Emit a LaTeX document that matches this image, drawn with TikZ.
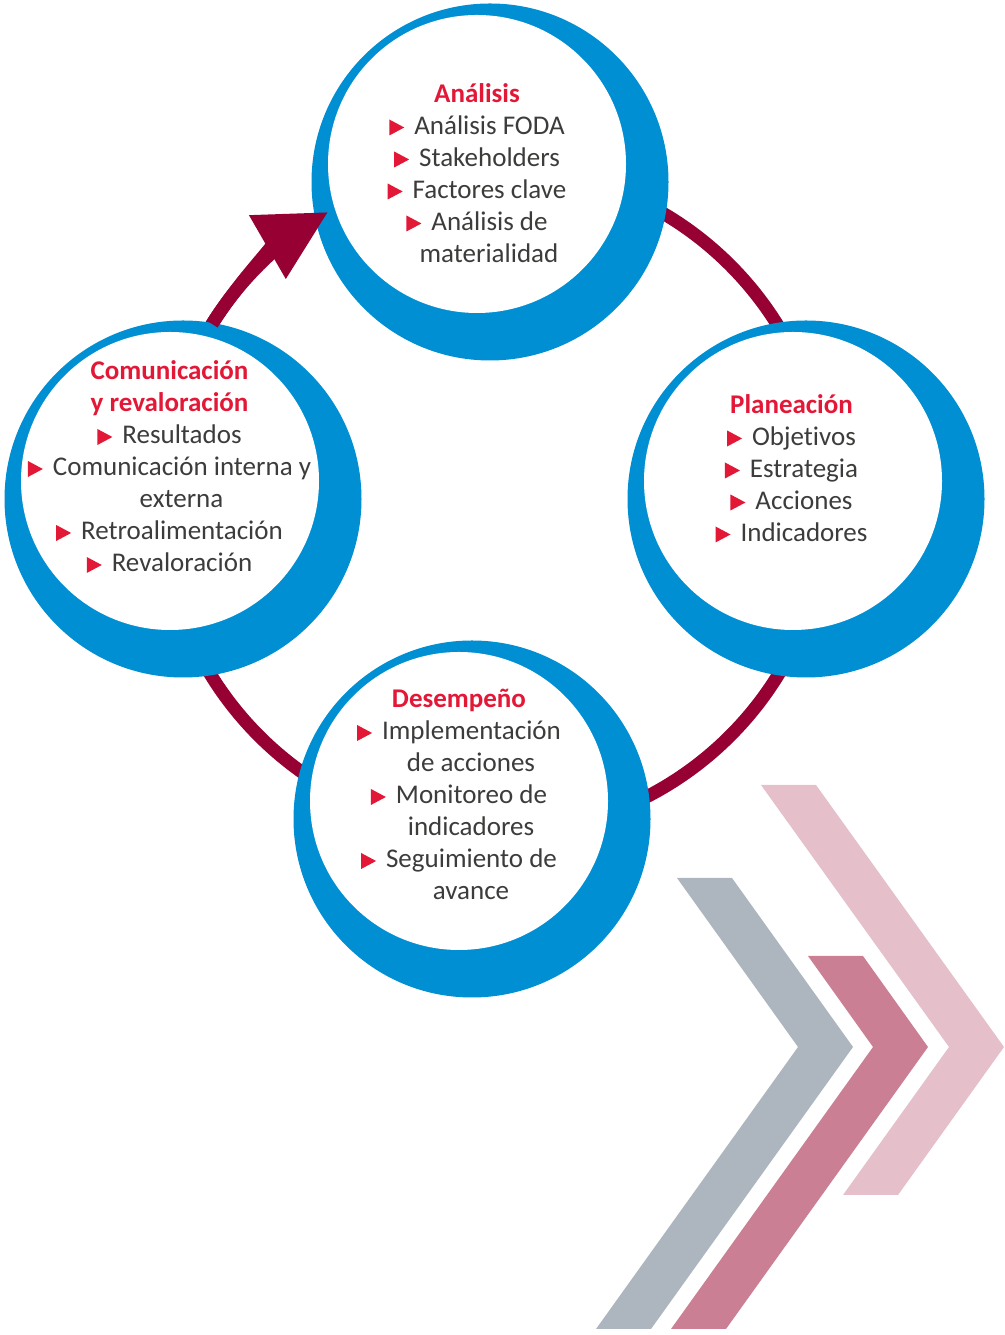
\documentclass[tikz,border=0pt]{standalone}
\usepackage{fontspec}
\setmainfont[Ligatures=NoCommon]{Carlito}
\usetikzlibrary{arrows.meta,calc}
\usepackage{tkz-euclide}
\definecolor{CircleClr}{RGB}{0,143,211}
\definecolor{RingClr}{RGB}{150,0,50}
\definecolor{TitleClr}{RGB}{227,24,55}
\definecolor{TextClr}{RGB}{60,60,59}
\definecolor{ChevGrayClr}{RGB}{173,181,190}
\definecolor{ChevDarkClr}{RGB}{202,127,148}
\definecolor{ChevLightClr}{RGB}{229,191,202}
\newcommand{\pointer}{\tikz[baseline=0pt]\fill[TitleClr] (0pt,-1pt)--(0pt,15pt)--(15pt,7pt)--cycle;\hspace{10pt}}
\newcommand{\stagetitle}[1]{\textcolor{TitleClr}{\bfseries #1}}

\begin{document}
\begin{tikzpicture}[x=1pt,y=1pt,
  ring/.style={draw=RingClr,line width=13pt},
  stage/.style={circle,fill=CircleClr,minimum size=357pt,inner sep=0pt},
  core/.style={circle,fill=white,minimum size=298pt,inner sep=0pt},
  txtblock/.style={anchor=base,inner sep=0pt,text=TextClr,font=\fontsize{27}{32}\selectfont}]
\useasboundingbox (0,0) rectangle (1004,1335);

% cycle
\coordinate (O) at (494.5,834.5);
\draw[ring] (O) circle[radius=333];

\node[stage] (Ana-out) at (490,1153) {};
\node[stage] (Pla-out) at (806,836) {};
\node[stage] (Des-out) at (472,516) {};
\node[stage] (Com-out) at (183,836) {};
\foreach \s in {Ana,Pla,Des,Com}
  \node[core] (\s-in) at ($(\s-out)+(-13,18)$) {};

\draw[ring,-{Triangle[length=70pt,width=70pt]}] ($(O)+(148:333)$) arc[start angle=148,end angle=120,radius=333];

% texts
\node[txtblock] (Ana-txt) at (477,1232.5) {\begin{tabular}[t]{@{}c@{}}
  \stagetitle{Análisis}\\
  \pointer Análisis FODA\\
  \pointer Stakeholders\\
  \pointer Factores clave\\
  \pointer Análisis de\\
  \hspace*{24pt}materialidad
\end{tabular}};
\node[txtblock] (Pla-txt) at (791.5,921.5) {\begin{tabular}[t]{@{}c@{}}
  \stagetitle{Planeación}\\
  \pointer Objetivos\\
  \pointer Estrategia\\
  \pointer Acciones\\
  \pointer Indicadores
\end{tabular}};
\node[txtblock] (Des-txt) at (459,627) {\begin{tabular}[t]{@{}c@{}}
  \stagetitle{Desempeño}\\
  \pointer Implementación\\
  \hspace*{24pt}de acciones\\
  \pointer Monitoreo de\\
  \hspace*{24pt}indicadores\\
  \pointer Seguimiento de\\
  \hspace*{24pt}avance
\end{tabular}};
\node[txtblock] (Com-txt) at (169.5,955) {\begin{tabular}[t]{@{}c@{}}
  \stagetitle{Comunicación}\\
  \stagetitle{y revaloración}\\
  \pointer Resultados\\
  \pointer Comunicación interna y\\
  \hspace*{24pt}externa\\
  \pointer Retroalimentación\\
  \pointer Revaloración
\end{tabular}};

% chevrons
\tkzDefPoints{677/457/G1,732/457/G2,853/288/G3,651/6/G4,596/6/G5,798/288/G6}
\tkzDefPoints{808/379/P1,863/379/P2,928/288/P3,726/6/P4,671/6/P5,873/288/P6}
\tkzDefPoints{761/550/L1,816/550/L2,1004/288/L3,898/140/L4,843/140/L5,949/288/L6}
\tkzFillPolygon[fill=ChevGrayClr](G1,G2,G3,G4,G5,G6)
\tkzFillPolygon[fill=ChevDarkClr](P1,P2,P3,P4,P5,P6)
\tkzFillPolygon[fill=ChevLightClr](L1,L2,L3,L4,L5,L6)

\end{tikzpicture}
\end{document}
